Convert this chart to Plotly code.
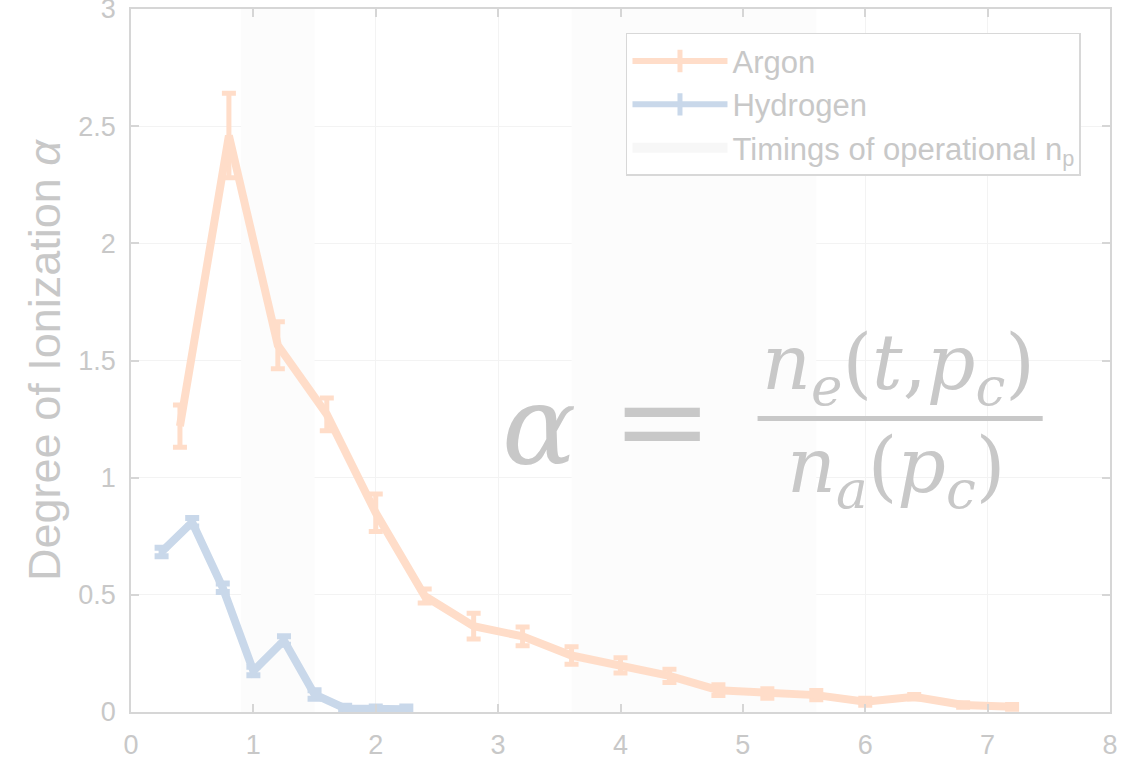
import plotly.graph_objects as go

# ---- data ----
argon_x = [0.4, 0.8, 1.2, 1.6, 2.0, 2.4, 2.8, 3.2, 3.6, 4.0, 4.4, 4.8, 5.2, 5.6, 6.0, 6.4, 6.8, 7.2]
argon_y = [1.22, 2.46, 1.565, 1.27, 0.85, 0.495, 0.366, 0.323, 0.241, 0.199, 0.154, 0.093, 0.079, 0.072, 0.044, 0.065, 0.030, 0.022]
argon_err = [0.09, 0.18, 0.10, 0.07, 0.08, 0.03, 0.055, 0.04, 0.037, 0.033, 0.028, 0.023, 0.02, 0.02, 0.015, 0.01, 0.01, 0.01]

hyd_x = [0.25, 0.5, 0.75, 1.0, 1.25, 1.5, 1.75, 2.0, 2.25]
hyd_y = [0.683, 0.81, 0.53, 0.175, 0.305, 0.075, 0.015, 0.012, 0.012]
hyd_err = [0.018, 0.018, 0.018, 0.018, 0.018, 0.018, 0.012, 0.012, 0.012]

# timing windows of operational n_p (start, end)
windows = [(0.9, 1.5), (3.6, 5.6)]

y_ticks = [0, 0.5, 1, 1.5, 2, 2.5, 3]
y_ticklabels = ["0", "0.5", "1", "1.5", "2", "2.5", "3"]
x_ticks = [0, 1, 2, 3, 4, 5, 6, 7, 8]

TXT = "#c8c8c8"
ARGON = "#FFDDC9"
HYD = "#C9D8EA"
SHADE = "#fcfcfc"

fig = go.Figure()

# shaded windows as one filled trace
wx, wy = [], []
for a, b in windows:
    wx += [a, b, b, a, a, None]
    wy += [0, 0, 3, 3, 0, None]

fig.add_trace(go.Scatter(
    x=wx, y=wy, name="Timings of operational n<sub>p</sub>", mode="lines",
    fill="toself", fillcolor=SHADE, line=dict(width=0, color=SHADE),
    showlegend=False, hoverinfo="skip",
))
fig.add_trace(go.Scatter(
    x=argon_x, y=argon_y, name="Argon", mode="lines",
    line=dict(color=ARGON, width=8), showlegend=False,
    error_y=dict(type="data", array=argon_err, visible=True, color=ARGON, thickness=5, width=7),
))
fig.add_trace(go.Scatter(
    x=hyd_x, y=hyd_y, name="Hydrogen", mode="lines",
    line=dict(color=HYD, width=8), showlegend=False,
    error_y=dict(type="data", array=hyd_err, visible=True, color=HYD, thickness=6, width=7),
))
# legend entries (line with a vertical error-bar glyph, and a filled swatch)
fig.add_trace(go.Scatter(
    x=[None], y=[None], name="Argon", mode="lines+markers",
    line=dict(color=ARGON, width=6),
    marker=dict(symbol="line-ns", size=28, line=dict(color=ARGON, width=6)),
))
fig.add_trace(go.Scatter(
    x=[None], y=[None], name="Hydrogen", mode="lines+markers",
    line=dict(color=HYD, width=6),
    marker=dict(symbol="line-ns", size=28, line=dict(color=HYD, width=6)),
))
fig.add_trace(go.Scatter(
    x=[None], y=[None], name="Timings of operational n<sub>p</sub>", mode="lines",
    line=dict(color="#f7f7f7", width=26),
))

FONT = "Liberation Sans, Arial, sans-serif"
SERIF = "DejaVu Serif, serif"

axis_common = dict(
    showline=True, linecolor="#d6d6d6", linewidth=1.5, mirror="ticks",
    ticks="inside", ticklen=8, tickcolor="#d6d6d6", tickwidth=1.5,
    showgrid=True, gridcolor="#f3f3f3", gridwidth=1, zeroline=False,
    tickfont=dict(family=FONT, size=27, color=TXT),
    ticklabeloverflow="allow", ticklabelstandoff=8, automargin=False,
)

fig.update_layout(
    width=1137, height=760,
    margin=dict(l=131, r=27, t=9, b=48),
    paper_bgcolor="white", plot_bgcolor="white",
    xaxis=dict(range=[0, 8], tickvals=x_ticks, **axis_common),
    yaxis=dict(range=[0, 3], tickvals=y_ticks, ticktext=y_ticklabels,
               title=dict(text="Degree of Ionization <i>α</i>", font=dict(family=FONT, size=45, color=TXT), standoff=4),
               **axis_common),
    showlegend=True,
    legend=dict(
        x=0.5056, y=0.966, xanchor="left", yanchor="top",
        bgcolor="white", bordercolor="#d8d8d8", borderwidth=1.5,
        font=dict(family=FONT, size=31, color=TXT),
        itemwidth=95, traceorder="normal",
        tracegroupgap=0,
    ),
)

# formula annotations
fig.add_annotation(x=3.33, y=1.22, xref="x", yref="y", showarrow=False,
                   text="<i>α</i>", font=dict(family=SERIF, size=110, color=TXT))
fig.add_annotation(x=4.34, y=1.245, xref="x", yref="y", showarrow=False,
                   text="=", font=dict(family=SERIF, size=120, color=TXT))
fig.add_annotation(x=6.27, y=1.467, xref="x", yref="y", showarrow=False,
                   text="<i>n<sub>e</sub></i>(<i>t</i>,<i>p<sub>c</sub></i>)",
                   font=dict(family=SERIF, size=76, color=TXT))
fig.add_annotation(x=6.25, y=1.03, xref="x", yref="y", showarrow=False,
                   text="<i>n<sub>a</sub></i>(<i>p<sub>c</sub></i>)",
                   font=dict(family=SERIF, size=76, color=TXT))
fig.add_shape(type="line", xref="x", yref="y", x0=5.12, x1=7.45, y0=1.253, y1=1.253,
              line=dict(color=TXT, width=5))

fig.write_html("out.html")
